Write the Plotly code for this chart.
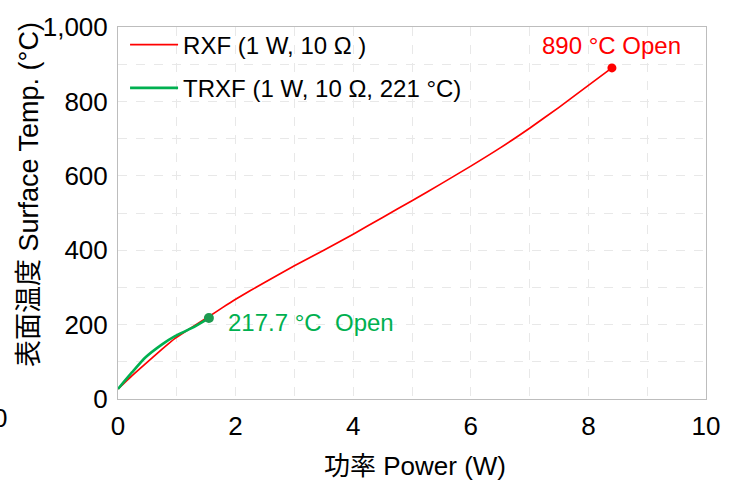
import plotly.graph_objects as go

# Surface temperature vs. applied power
rxf_power = [0, 0.24, 0.46, 0.75, 0.97, 1.26, 1.54, 1.77, 2.0, 2.5, 3.0, 3.5,
             4.0, 4.5, 5.0, 5.5, 6.0, 6.5, 7.0, 7.5, 8.0, 8.4]
rxf_temp = [27, 63, 94, 134, 163, 193, 221, 245, 268, 314, 358, 400,
            443, 488, 533, 579, 626, 675, 728, 784, 843, 890]

trxf_power = [0, 0.24, 0.46, 0.75, 0.97, 1.26, 1.546]
trxf_temp = [27, 72, 111, 147, 169, 191, 217.7]

RED = "#FF0000"
GREEN = "#00B050"
GREEN_DOT = "#1E9A50"
FONT = "Liberation Sans, Arial, Noto Sans CJK JP, sans-serif"

fig = go.Figure()

fig.add_trace(go.Scatter(
    x=rxf_power, y=rxf_temp, mode="lines", name="RXF (1 W, 10 Ω )",
    line=dict(color=RED, width=1.7, shape="spline", smoothing=0.5),
    legendgroup="a",
))
fig.add_trace(go.Scatter(
    x=trxf_power, y=trxf_temp, mode="lines", name="TRXF (1 W, 10 Ω, 221 °C)",
    line=dict(color=GREEN, width=2.6, shape="spline", smoothing=0.5),
    legendgroup="b",
))

# open-circuit end points
fig.add_trace(go.Scatter(
    x=[rxf_power[-1]], y=[rxf_temp[-1]], mode="markers", showlegend=False,
    marker=dict(color=RED, size=9),
))
fig.add_trace(go.Scatter(
    x=[trxf_power[-1]], y=[trxf_temp[-1]], mode="markers", showlegend=False,
    marker=dict(color=GREEN_DOT, size=10),
))

fig.add_annotation(
    x=rxf_power[-1], y=rxf_temp[-1], text=f"{rxf_temp[-1]} °C Open",
    showarrow=False, xanchor="center", yanchor="middle", yshift=22,
    font=dict(family=FONT, size=24, color=RED),
)
fig.add_annotation(
    x=trxf_power[-1], y=trxf_temp[-1], text=f"{trxf_temp[-1]} °C  Open",
    showarrow=False, xanchor="left", yanchor="middle", xshift=17, yshift=-4,
    font=dict(family=FONT, size=24, color=GREEN),
)

# axis titles
fig.add_annotation(
    xref="paper", yref="paper", x=-0.151, y=0.549, text="表面温度 Surface Temp. (°C)",
    textangle=-90, showarrow=False, xanchor="center", yanchor="middle",
    font=dict(family=FONT, size=27, color="#000000"),
)
fig.add_annotation(
    xref="paper", yref="paper", x=0.505, y=-0.179, text="功率 Power (W)",
    showarrow=False, xanchor="center", yanchor="middle",
    font=dict(family=FONT, size=26, color="#000000"),
)
# label partly beyond the left edge
fig.add_annotation(
    xref="paper", yref="paper", x=-0.2, y=-0.051, text="0",
    showarrow=False, xanchor="center", yanchor="middle",
    font=dict(family=FONT, size=26, color="#000000"),
)

grid = dict(showgrid=True, gridcolor="#E8E8E8", griddash="dash", gridwidth=1)

fig.update_xaxes(
    range=[0, 10], dtick=2, tick0=0, ticks="", ticklabelstandoff=4,
    showline=True, linecolor="#BDBDBD", linewidth=1, mirror=True, zeroline=False,
    tickfont=dict(family=FONT, size=26, color="#000000"),
    minor=dict(dtick=1, **grid), **grid,
)
fig.update_yaxes(
    range=[0, 1000], dtick=200, tick0=0, ticks="", tickformat=",d", ticklabelstandoff=4,
    showline=True, linecolor="#BDBDBD", linewidth=1, mirror=True, zeroline=False,
    tickfont=dict(family=FONT, size=26, color="#000000"),
    minor=dict(dtick=100, **grid), **grid,
)

fig.update_layout(
    width=732, height=486,
    margin=dict(l=118, r=26, t=22, b=87),
    paper_bgcolor="white", plot_bgcolor="white",
    showlegend=True,
    legend=dict(
        x=0.012, y=1.012, xanchor="left", yanchor="top",
        bgcolor="rgba(0,0,0,0)", borderwidth=0,
        font=dict(family=FONT, size=24, color="#000000"),
        tracegroupgap=9, itemwidth=48,
    ),
)

fig.write_html("out.html")
